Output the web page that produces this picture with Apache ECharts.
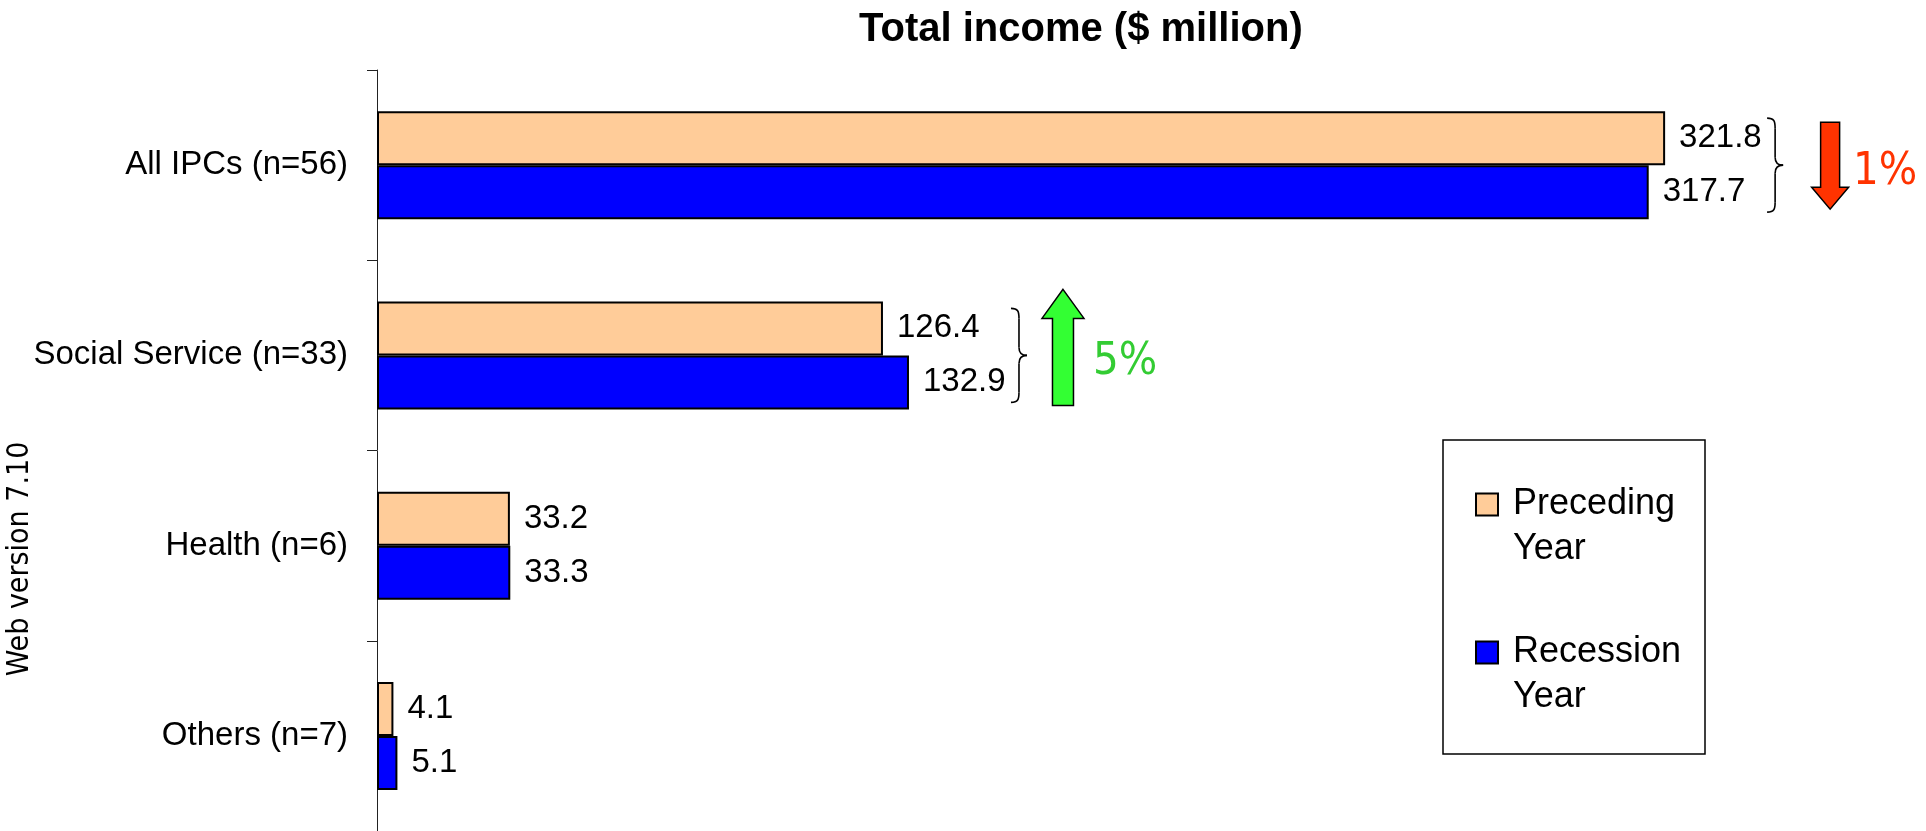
<!DOCTYPE html>
<html>
<head>
<meta charset="utf-8">
<title>Total income</title>
<script src="https://cdn.jsdelivr.net/npm/echarts@6/dist/echarts.min.js"></script>
<style>
  html, body { margin: 0; padding: 0; background: #fff; }
  #chart { width: 1926px; height: 831px; }
</style>
</head>
<body>
<div id="chart"></div>
<script>
const categories = ["All IPCs (n=56)", "Social Service (n=33)", "Health (n=6)", "Others (n=7)"];
const precedingYear = [321.8, 126.4, 33.2, 4.1];
const recessionYear = [317.7, 132.9, 33.3, 5.1];
const seriesNames = ["Preceding Year", "Recession Year"];
// change between the two years, drawn as arrow + percentage next to the pair
const changeNotes = [
  { index: 0, text: "1%", dir: "down" },
  { index: 1, text: "5%", dir: "up" },
];

const FONT = '"Liberation Sans", Arial, Helvetica, sans-serif';
const NARROW = '"Liberation Sans Narrow", "DejaVu Sans Condensed", "Liberation Sans", sans-serif';

const chart = echarts.init(document.getElementById("chart"));

const barLabel = {
  show: true,
  position: "right",
  distance: 14,
  color: "#000",
  fontSize: 33,
  fontFamily: FONT,
};

chart.setOption({
  animation: false,
  backgroundColor: "#fff",
  title: {
    text: "Total income ($ million)",
    left: 854,
    top: 5,
    textStyle: { fontSize: 40, fontWeight: "bold", color: "#000", fontFamily: FONT },
  },
  grid: { left: 377, top: 70, width: 1401, height: 762 },
  xAxis: { type: "value", min: 0, max: 350, show: false },
  yAxis: {
    type: "category",
    inverse: true,
    data: categories,
    axisLine: { lineStyle: { color: "#222", width: 1 } },
    axisTick: { show: true, length: 10, lineStyle: { color: "#222", width: 1 } },
    axisLabel: { color: "#000", fontSize: 33, margin: 29, fontFamily: FONT },
  },
  legend: {
    orient: "vertical",
    left: 1470,
    top: 432,
    itemWidth: 22,
    itemHeight: 22,
    itemGap: 13,
    icon: "rect",
    selectedMode: false,
    formatter: (name) => "\n" + name.replace(" ", "\n"),
    textStyle: { fontSize: 36, lineHeight: 45, color: "#000", fontFamily: FONT, padding: [0, 0, 0, 10] },
    itemStyle: { borderColor: "#000", borderWidth: 2 },
    data: seriesNames,
  },
  series: [
    {
      name: seriesNames[0],
      type: "bar",
      data: precedingYear,
      barWidth: 54,
      barGap: "0%",
      itemStyle: { color: "#FFCC99", borderColor: "#000", borderWidth: 2 },
      label: barLabel,
    },
    {
      name: seriesNames[1],
      type: "bar",
      data: recessionYear,
      barWidth: 54,
      barGap: "0%",
      itemStyle: { color: "#0000FF", borderColor: "#000", borderWidth: 2 },
      label: barLabel,
    },
  ],
});

// curly brace "}" opening to the left, tip pointing right
function brace(x0, cy, h) {
  const top = cy - h, bot = cy + h;
  const st = { stroke: "#000", lineWidth: 1.6, fill: null };
  return [
    { type: "bezierCurve", shape: { x1: x0, y1: top, cpx1: x0 + 7, cpy1: top, cpx2: x0 + 8, cpy2: top + 3, x2: x0 + 8, y2: top + 10 }, style: st },
    { type: "line", shape: { x1: x0 + 8, y1: top + 10, x2: x0 + 8, y2: cy - 8 }, style: st },
    { type: "bezierCurve", shape: { x1: x0 + 8, y1: cy - 8, cpx1: x0 + 8, cpy1: cy - 2, cpx2: x0 + 12, cpy2: cy, x2: x0 + 16, y2: cy }, style: st },
    { type: "bezierCurve", shape: { x1: x0 + 16, y1: cy, cpx1: x0 + 12, cpy1: cy, cpx2: x0 + 8, cpy2: cy + 2, x2: x0 + 8, y2: cy + 8 }, style: st },
    { type: "line", shape: { x1: x0 + 8, y1: cy + 8, x2: x0 + 8, y2: bot - 10 }, style: st },
    { type: "bezierCurve", shape: { x1: x0 + 8, y1: bot - 10, cpx1: x0 + 8, cpy1: bot - 3, cpx2: x0 + 7, cpy2: bot, x2: x0, y2: bot }, style: st },
  ];
}

const arrowStyle = {
  down: { dx: 63, textDx: 23, fill: "#FF3300", textColor: "#FF3300" },
  up: { dx: 52, textDx: 30, fill: "#33FF33", textColor: "#33CC33" },
};

const graphics = [];
changeNotes.forEach((note) => {
  const i = note.index;
  const maxVal = Math.max(precedingYear[i], recessionYear[i]);
  const [xEnd, cy] = chart.convertToPixel({ gridIndex: 0 }, [maxVal, i]);
  const x0 = xEnd + 102;
  graphics.push(...brace(x0, cy, 47));
  const s = arrowStyle[note.dir];
  const cx = x0 + s.dx;
  let pts;
  if (note.dir === "down") {
    pts = [[cx - 9.5, cy - 43], [cx + 9.5, cy - 43], [cx + 9.5, cy + 22], [cx + 18.5, cy + 22],
           [cx, cy + 44], [cx - 18.5, cy + 22], [cx - 9.5, cy + 22]];
  } else {
    pts = [[cx, cy - 66], [cx + 21, cy - 37], [cx + 10.5, cy - 37], [cx + 10.5, cy + 50],
           [cx - 10.5, cy + 50], [cx - 10.5, cy - 37], [cx - 21, cy - 37]];
  }
  graphics.push({ type: "polygon", shape: { points: pts }, style: { fill: s.fill, stroke: "#000", lineWidth: 1.5 } });
  graphics.push({
    type: "text",
    x: cx + s.textDx,
    y: cy + 7,
    style: { text: note.text, fill: s.textColor, font: "45px " + NARROW, textAlign: "left", textVerticalAlign: "middle" },
  });
});

// legend frame
graphics.push({
  type: "rect",
  z: -1,
  shape: { x: 1443, y: 440, width: 262, height: 314 },
  style: { fill: null, stroke: "#000", lineWidth: 1.5 },
});

// side note
graphics.push({
  type: "text",
  x: 20,
  y: 559,
  rotation: Math.PI / 2,
  style: { text: "Web version 7.10", fill: "#000", font: "30px " + NARROW, textAlign: "center", textVerticalAlign: "middle" },
});

chart.setOption({ graphic: graphics });
</script>
</body>
</html>
